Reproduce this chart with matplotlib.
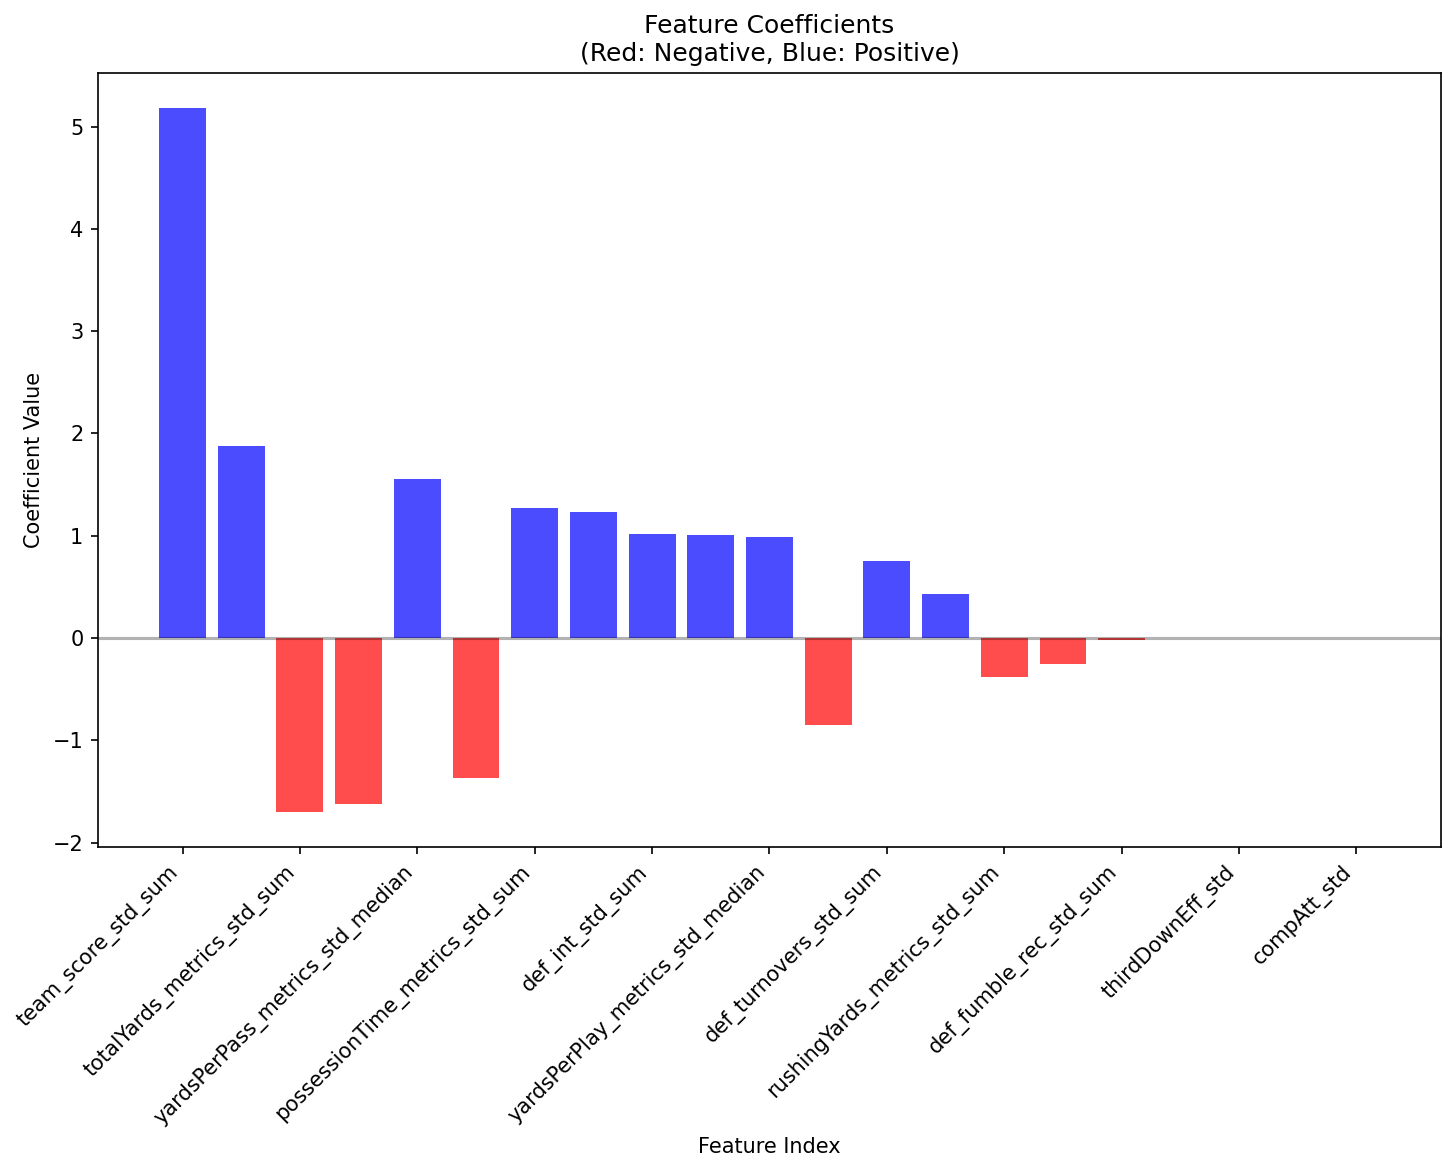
import numpy as np
from matplotlib import pyplot as plt

features = [
    'team_score_std_sum', 'passingYards_metrics_std_sum',
    'totalYards_metrics_std_sum', 'firstDowns_metrics_std_sum',
    'yardsPerPass_metrics_std_median', 'sacks_std_sum',
    'possessionTime_metrics_std_sum', 'def_sacks_std_sum',
    'def_int_std_sum', 'yardsPerRush_metrics_std_median',
    'yardsPerPlay_metrics_std_median', 'turnovers_std_sum',
    'def_turnovers_std_sum', 'penalties_std_sum',
    'rushingYards_metrics_std_sum', 'interceptions_std_sum',
    'def_fumble_rec_std_sum', 'fumblesLost_std_sum',
    'thirdDownEff_std', 'fourthDownEff_std',
    'compAtt_std',
]
coefs = [5.18, 1.88, -1.70, -1.62, 1.55, -1.37, 1.27, 1.23, 1.02, 1.01, 0.99,
         -0.85, 0.75, 0.43, -0.38, -0.25, -0.02, 0.0, 0.0, 0.0, 0.0]

fig = plt.figure(figsize=(1456 / 150, 1170 / 150), dpi=150)
ax = fig.add_subplot(111)
fig.subplots_adjust(left=0.0673, right=0.9897, top=0.9376, bottom=0.276)

x = np.arange(len(coefs))
colors = ['red' if c < 0 else 'blue' for c in coefs]
ax.bar(x, coefs, color=colors, alpha=0.7)
ax.axhline(y=0, color='black', linestyle='-', alpha=0.3)

ax.set_xticks(x[::2])
ax.set_xticklabels(features[::2], rotation=45, ha='right')
ax.set_xlabel('Feature Index')
ax.set_ylabel('Coefficient Value')
ax.set_title('Feature Coefficients\n(Red: Negative, Blue: Positive)')

fig.savefig('out.png', dpi=150)
